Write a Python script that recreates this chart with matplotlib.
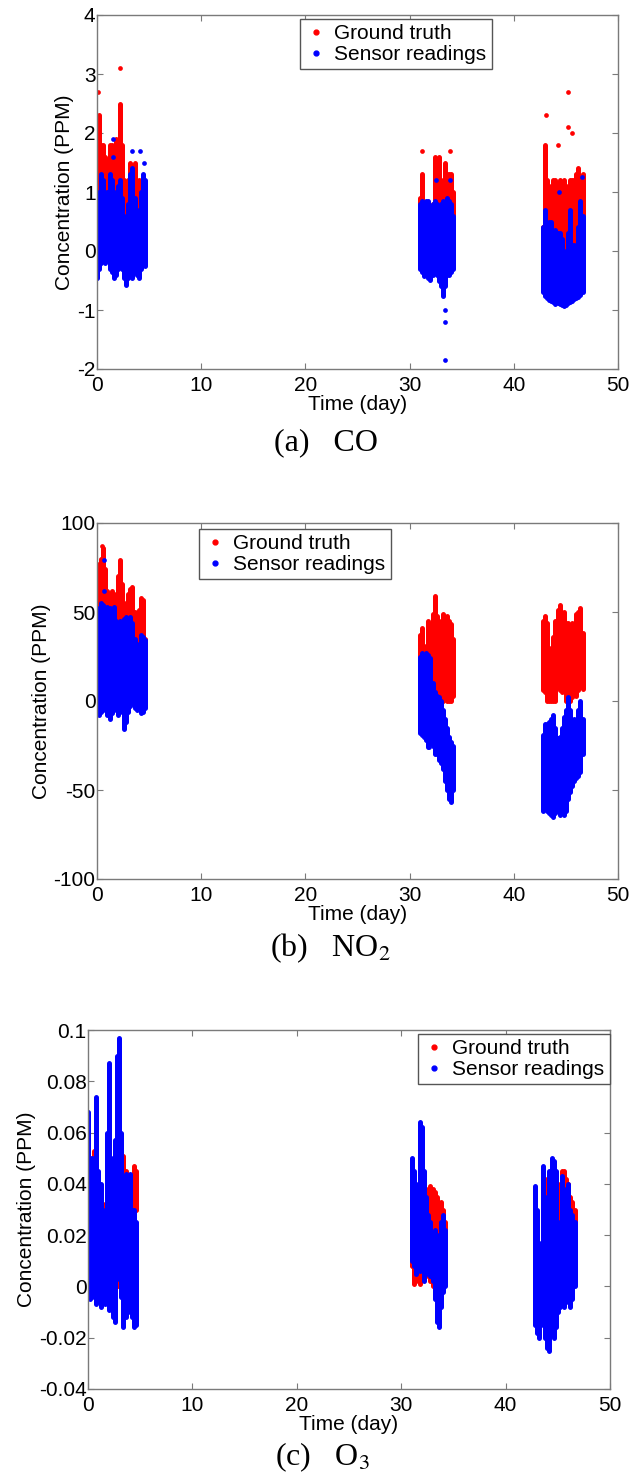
import matplotlib.pyplot as plt
from matplotlib.lines import Line2D
from matplotlib.ticker import FuncFormatter

plt.rcParams["font.family"] = ["Liberation Sans", "DejaVu Sans"]
plt.rcParams["axes.unicode_minus"] = False
plt.rcParams["mathtext.fontset"] = "stix"

# sampling days of the three measurement campaigns
DAYS_1 = [0.0, 0.2, 0.4, 0.6, 0.8, 1.0, 1.2, 1.4, 1.6, 1.8, 2.0, 2.2,
          2.4, 2.6, 2.8, 3.0, 3.2, 3.4, 3.6, 3.8, 4.0, 4.2, 4.4, 4.6]
DAYS_2 = [31.0, 31.2, 31.4, 31.6, 31.8, 32.0, 32.2, 32.4, 32.6, 32.8,
          33.0, 33.2, 33.4, 33.6, 33.8, 34.0, 34.2]
DAYS_3 = [42.8, 43.0, 43.2, 43.4, 43.6, 43.8, 44.0, 44.2, 44.4, 44.6,
          44.8, 45.0, 45.2, 45.4, 45.6, 45.8, 46.0, 46.2, 46.4, 46.6]
DAYS = DAYS_1 + DAYS_2 + DAYS_3

# CO: spread (low / high) of the values around each sampling day
co_truth_hi = [1.2, 2.3, 1.8, 1.8, 1.6, 1.3, 1.8, 1.8, 1.5, 1.9, 1.6, 2.5,
               1.8, 1.2, 1.1, 1.2, 1.5, 1.3, 1.5, 1.0, 1.2, 1.0, 1.1, 0.9,
               0.9, 1.3, 0.6, 0.7, 0.6, 0.6, 0.8, 1.6, 1.2, 1.6, 1.0, 1.2,
               1.5, 1.3, 1.3, 1.3, 1.0,
               0.4, 1.8, 1.2, 1.0, 1.1, 1.2, 1.2, 1.0, 1.2, 1.1, 1.2, 1.0,
               1.1, 1.2, 1.2, 1.2, 1.3, 1.4, 1.2, 1.3]
co_truth_lo = [0.0, 0.1, 0.0, 0.1, 0.0, 0.1, 0.0, 0.0, 0.1, 0.0, 0.1, 0.0,
               0.0, 0.1, 0.0, 0.0, 0.1, 0.0, 0.1, 0.0, 0.0, 0.1, 0.0, 0.1,
               0.0, 0.1, 0.0, 0.0, 0.1, 0.0, 0.0, 0.1, 0.0, 0.0, 0.1, 0.0,
               0.0, 0.1, 0.0, 0.0, 0.1,
               0.0, 0.0, 0.1, 0.0, 0.0, 0.1, 0.0, 0.0, 0.1, 0.0, 0.0, 0.1,
               0.0, 0.0, 0.1, 0.0, 0.0, 0.1, 0.0, 0.0]
co_sensor_hi = [0.8, 1.0, 1.3, 1.2, 0.9, 1.0, 1.3, 1.2, 1.0, 0.9, 1.1, 1.2,
                0.9, 0.6, 0.5, 0.8, 1.3, 1.4, 0.9, 0.6, 0.7, 1.0, 1.3, 1.2,
                0.8, 0.85, 0.8, 0.85, 0.85, 0.7, 0.8, 0.85, 0.8, 0.7, 0.8,
                0.85, 0.8, 0.9, 0.85, 0.8, 0.6,
                0.4, 0.7, 0.4, 0.5, 0.5, 0.3, 0.35, 0.3, 0.3, 0.2, 0.0, -0.05,
                0.3, 0.7, 0.1, 0.1, 0.05, 0.4, 0.85, 0.6]
co_sensor_lo = [-0.45, -0.3, -0.2, -0.15, -0.2, -0.15, -0.3, -0.35, -0.45,
                -0.4, -0.3, -0.25, -0.3, -0.45, -0.58, -0.45, -0.4, -0.45,
                -0.3, -0.4, -0.45, -0.3, -0.2, -0.25,
                -0.3, -0.35, -0.43, -0.4, -0.45, -0.49, -0.4, -0.35, -0.4,
                -0.5, -0.6, -0.77, -0.6, -0.4, -0.4, -0.35, -0.3,
                -0.7, -0.77, -0.8, -0.83, -0.85, -0.87, -0.89, -0.88, -0.9,
                -0.92, -0.94, -0.92, -0.88, -0.86, -0.84, -0.82, -0.8, -0.78,
                -0.75, -0.7]
co_truth_extra_day = [0.1, 2.2, 31.2, 33.9, 43.1, 44.2, 45.2, 45.2, 45.6]
co_truth_extra_val = [2.7, 3.1, 1.7, 1.7, 2.3, 1.8, 2.7, 2.1, 2.0]
co_sensor_extra_day = [1.5, 1.5, 3.4, 4.1, 4.5, 32.5, 33.9, 33.4, 33.4, 33.4,
                       44.3, 46.5]
co_sensor_extra_val = [1.9, 1.6, 1.7, 1.7, 1.5, 1.2, 1.2, -1.0, -1.2, -1.85,
                       1.0, 1.25]

# NO2
no2_truth_hi = [76, 77, 80, 86, 74, 62, 60, 62, 58, 60, 70, 79,
                66, 55, 52, 60, 63, 64, 50, 48, 51, 58, 57, 35,
                37, 41, 31, 30, 45, 40, 49, 59, 48, 45, 42, 49, 40, 48, 45,
                43, 35,
                45, 48, 44, 30, 1, 36, 45, 51, 54, 47, 50, 44, 44, 42, 44,
                40, 49, 50, 52, 38]
no2_truth_lo = [5, 3, 2, 4, 5, 3, 2, 4, 5, 3, 4, 6,
                5, 3, 2, 4, 3, 2, 0, -1, 2, 5, 6, 8,
                20, 22, 20, 18, 12, 10, 5, 2, 1, 0, 0, 0, 2, 0, 0, 0, 3,
                6, 5, 0, 0, 0, 0, 0, 8, 6, 5, 7, 0, 0, 0, 2, 5, 3, 6, 8, 7]
no2_sensor_hi = [43, 52, 55, 54, 50, 53, 52, 48, 53, 45, 43, 45,
                 40, 46, 47, 45, 47, 44, 35, 32, 30, 37, 36, 34,
                 25, 27, 26, 27, 26, 24, 10, 5, 3, 2, 0, -5, -10, -15, -20,
                 -23, -25,
                 -19, -13, -13, -12, -10, -8, -15, -21, -20, -15, -9, -5, 2,
                 -5, -15, -10, -12, -5, 0, -10]
no2_sensor_lo = [-7, -8, -6, -5, -4, -8, -10, -7, -4, -5, -8, -6,
                 -5, -16, -12, -6, -3, 2, -4, -5, -3, -7, -6, -4,
                 -18, -19, -20, -22, -26, -23, -25, -30, -30, -33, -35, -38,
                 -45, -50, -55, -57, -50,
                 -62, -60, -62, -63, -64, -65, -63, -62, -64, -62, -64, -62,
                 -55, -51, -48, -45, -43, -42, -40, -30]
no2_truth_extra_day = [0.5]
no2_truth_extra_val = [87]
no2_sensor_extra_day = [0.7, 0.7, 31.9]
no2_sensor_extra_val = [79, 62, -26]

# O3
o3_truth_hi = [0.030, 0.045, 0.050, 0.053, 0.047, 0.044, 0.035, 0.030,
               0.032, 0.030, 0.054, 0.040, 0.035, 0.050, 0.051, 0.050,
               0.050, 0.051, 0.045, 0.040, 0.038, 0.040, 0.047, 0.045,
               0.034, 0.030, 0.026, 0.030, 0.028, 0.035, 0.025, 0.030,
               0.038, 0.039, 0.038, 0.037, 0.035, 0.030, 0.033, 0.030, 0.025,
               0.025, 0.020, 0.015, 0.015, 0.030, 0.038, 0.042, 0.040,
               0.042, 0.040, 0.035, 0.033, 0.040, 0.045, 0.045, 0.042,
               0.040, 0.035, 0.033, 0.030]
o3_truth_lo = [0.0, 0.0, 0.0, 0.0, 0.0, 0.0, 0.0, 0.0, 0.0, 0.0, 0.0, 0.0,
               0.0, 0.0, 0.0, 0.0, 0.0, 0.0, 0.0, 0.0, 0.0, 0.0, 0.030, 0.030,
               0.008, 0.001, 0.002, 0.005, 0.001, 0.003, 0.005, 0.006,
               0.004, 0.002, 0.0, 0.005, 0.008, 0.006, 0.004, 0.0, 0.002,
               0.0, 0.0, 0.002, 0.0, 0.003, 0.0, 0.005, 0.004, 0.0, 0.002,
               0.006, 0.004, 0.0, 0.003, 0.005, 0.0, 0.004, 0.002, 0.0, 0.003]
o3_sensor_hi = [0.068, 0.040, 0.050, 0.030, 0.074, 0.045, 0.040, 0.025,
                0.030, 0.060, 0.087, 0.050, 0.040, 0.057, 0.090, 0.097,
                0.060, 0.035, 0.044, 0.040, 0.044, 0.030, 0.030, 0.025,
                0.050, 0.045, 0.030, 0.040, 0.064, 0.062, 0.045, 0.035,
                0.028, 0.025, 0.020, 0.022, 0.020, 0.018, 0.025, 0.028, 0.022,
                0.039, 0.030, 0.017, 0.015, 0.047, 0.035, 0.030, 0.045,
                0.050, 0.049, 0.045, 0.025, 0.020, 0.043, 0.030, 0.038,
                0.040, 0.030, 0.028, 0.025]
o3_sensor_lo = [-0.002, -0.005, -0.004, 0.000, -0.007, 0.005, -0.008, 0.000,
                -0.007, -0.005, -0.009, -0.003, -0.012, -0.014, 0.003, 0.005,
                -0.004, -0.016, -0.012, 0.005, -0.010, -0.012, -0.016, -0.015,
                0.010, 0.008, 0.005, 0.012, 0.006, 0.010, 0.002, 0.005,
                0.006, 0.004, 0.002, -0.005, -0.014, -0.016, -0.008, -0.002,
                0.000,
                -0.015, -0.018, -0.020, -0.015, -0.012, -0.020, -0.024,
                -0.025, -0.015, -0.020, -0.016, -0.010, -0.008, -0.005,
                -0.008, -0.006, -0.005, -0.008, -0.005, 0.000]

TRUTH_COLOR = "#ff0000"
SENSOR_COLOR = "#0000ff"
FRAME_COLOR = "#7a7a7a"
LABEL_SIZE = 15
W, H = 631, 1482


def streaks(ax, lo, hi, color):
    ax.vlines(DAYS, lo, hi, colors=color, linewidth=3.6, capstyle="round")


def extras(ax, days, vals, color):
    ax.plot(days, vals, "o", color=color, markersize=3.4, markeredgewidth=0)


def style_axes(ax, yticks, ylim):
    ax.set_xlim(0, 50)
    ax.set_ylim(*ylim)
    ax.set_xticks([0, 10, 20, 30, 40, 50])
    ax.set_yticks(yticks)
    ax.yaxis.set_major_formatter(FuncFormatter(lambda v, p: f"{v:g}"))
    ax.tick_params(direction="in", top=True, right=True, length=4,
                   color=FRAME_COLOR, labelsize=LABEL_SIZE)
    ax.tick_params(axis="x", pad=5)
    ax.tick_params(axis="y", pad=1)
    for s in ax.spines.values():
        s.set_color(FRAME_COLOR)
        s.set_linewidth(1.0)
    ax.set_xlabel("Time (day)", fontsize=LABEL_SIZE, labelpad=0)
    ax.set_ylabel("Concentration (PPM)", fontsize=LABEL_SIZE, labelpad=2)


def add_legend(ax, fig, x0, y0):
    handles = [Line2D([], [], ls="none", marker=".", color=TRUTH_COLOR,
                      markersize=7),
               Line2D([], [], ls="none", marker=".", color=SENSOR_COLOR,
                      markersize=7)]
    ax.legend(handles, ["Ground truth", "Sensor readings"], loc="upper left",
              bbox_to_anchor=(x0 / W, 1 - y0 / H),
              bbox_transform=fig.transFigure, fancybox=False,
              edgecolor="#555555", framealpha=1, borderaxespad=0,
              handlelength=1.0, handletextpad=0.4, borderpad=0.25,
              labelspacing=0.08, fontsize=LABEL_SIZE)


def axes_rect(left, right, top, bottom):
    return [left / W, 1 - bottom / H, (right - left) / W, (bottom - top) / H]


fig = plt.figure(figsize=(W / 100, H / 100), dpi=100)

# (a) CO
ax_co = fig.add_axes(axes_rect(97, 618, 15, 369))
streaks(ax_co, co_truth_lo, co_truth_hi, TRUTH_COLOR)
extras(ax_co, co_truth_extra_day, co_truth_extra_val, TRUTH_COLOR)
streaks(ax_co, co_sensor_lo, co_sensor_hi, SENSOR_COLOR)
extras(ax_co, co_sensor_extra_day, co_sensor_extra_val, SENSOR_COLOR)
style_axes(ax_co, [-2, -1, 0, 1, 2, 3, 4], (-2, 4))
add_legend(ax_co, fig, 300, 19)

# (b) NO2
ax_no2 = fig.add_axes(axes_rect(97, 618, 523, 879))
streaks(ax_no2, no2_truth_lo, no2_truth_hi, TRUTH_COLOR)
extras(ax_no2, no2_truth_extra_day, no2_truth_extra_val, TRUTH_COLOR)
streaks(ax_no2, no2_sensor_lo, no2_sensor_hi, SENSOR_COLOR)
extras(ax_no2, no2_sensor_extra_day, no2_sensor_extra_val, SENSOR_COLOR)
style_axes(ax_no2, [-100, -50, 0, 50, 100], (-100, 100))
add_legend(ax_no2, fig, 199, 529)

# (c) O3
ax_o3 = fig.add_axes(axes_rect(88, 610, 1030, 1389))
streaks(ax_o3, o3_truth_lo, o3_truth_hi, TRUTH_COLOR)
streaks(ax_o3, o3_sensor_lo, o3_sensor_hi, SENSOR_COLOR)
style_axes(ax_o3, [-0.04, -0.02, 0, 0.02, 0.04, 0.06, 0.08, 0.1],
           (-0.04, 0.1))
add_legend(ax_o3, fig, 418, 1034)

captions = [("(a)   CO", 326, 443), ("(b)   NO$_2$", 330, 948),
            ("(c)   O$_3$", 322, 1457)]
for text, cx, cy in captions:
    fig.text(cx / W, 1 - cy / H, text, ha="center", va="center",
             fontsize=23, family="Liberation Serif")

fig.savefig("out.png", dpi=100)
